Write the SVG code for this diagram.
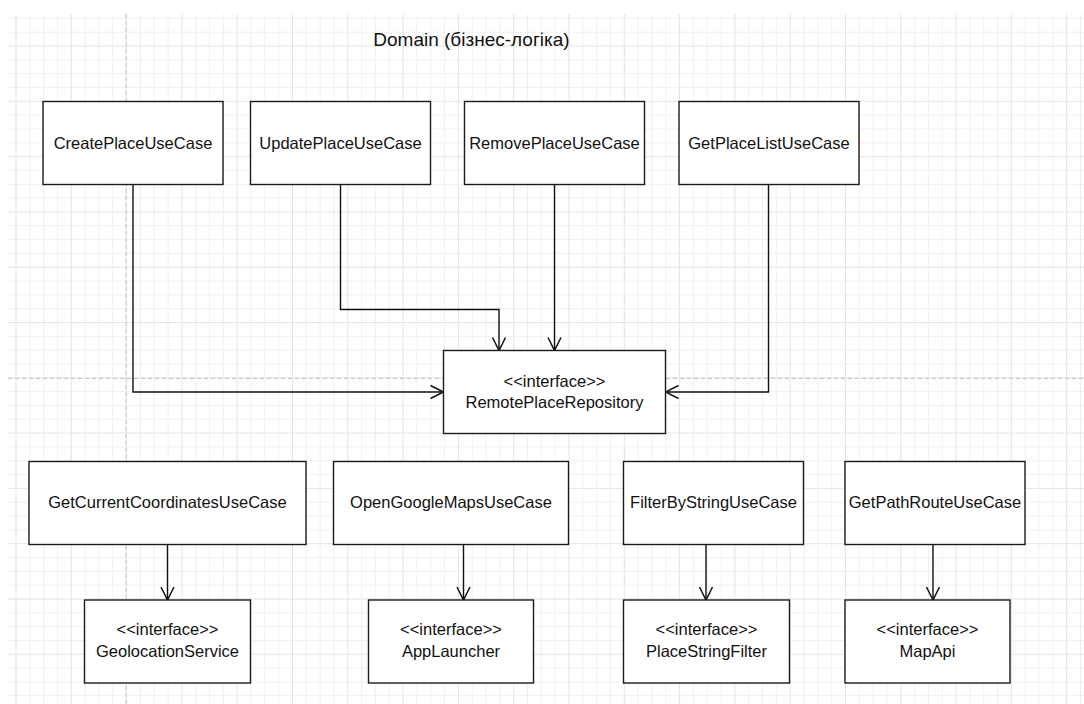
<svg xmlns="http://www.w3.org/2000/svg" width="1084" height="704" viewBox="0 0 1084 704">
  <style>
    .box { fill: #ffffff; stroke: #1a1a1a; stroke-width: 1.4; }
    .lbl { font-family: "Liberation Sans", Arial, sans-serif; font-size: 16.5px; fill: #111111; text-anchor: middle; }
    .title { font-size: 19px; }
    .edge { fill: none; stroke: #111111; stroke-width: 1.4; marker-end: url(#open); }
    .guide { stroke: #c4c4c4; stroke-width: 1; stroke-dasharray: 4 3; }
  </style>
  <defs>
    <pattern id="grid" patternUnits="userSpaceOnUse" x="15.5" y="45.5" width="55.3" height="55.3">
      <path d="M14.325 0V55.3M28.15 0V55.3M41.975 0V55.3M0 14.325H55.3M0 28.15H55.3M0 41.975H55.3" stroke="#f0f0f0" stroke-width="1" fill="none"/>
      <path d="M0.5 0V55.3M0 0.5H55.3" stroke="#e3e3e3" stroke-width="1" fill="none"/>
    </pattern>
    <marker id="open" markerUnits="userSpaceOnUse" viewBox="-15 -9 17 18" markerWidth="17" markerHeight="18" refX="0" refY="0" orient="auto">
      <path d="M-13 -6.5 L0 0 L-13 6.5" fill="none" stroke="#111111" stroke-width="1.5"/>
    </marker>
  </defs>

  <rect x="0" y="0" width="1084" height="704" fill="#ffffff"/>
  <rect x="8" y="14" width="1076" height="690" fill="url(#grid)"/>
  <line class="guide" x1="126" y1="14" x2="126" y2="704"/>
  <line class="guide" x1="8" y1="378.5" x2="1084" y2="378.5"/>

  <text class="lbl title" x="471.5" y="45.5">Domain (бізнес-логіка)</text>

  <g id="connectors">
    <path class="edge" d="M133 184.5 V392 H443.5"/>
    <path class="edge" d="M340.5 184.5 V309.5 H499 V350.5"/>
    <path class="edge" d="M554.5 184.5 V350.5"/>
    <path class="edge" d="M768.5 184.5 V392 H665.5"/>
    <path class="edge" d="M167.5 544.5 V600"/>
    <path class="edge" d="M463.5 544.5 V600"/>
    <path class="edge" d="M706 544.5 V600"/>
    <path class="edge" d="M933 544.5 V600"/>
  </g>

  <g id="createPlace">
    <rect class="box" x="43" y="101.5" width="180" height="83"/>
    <text class="lbl" x="133" y="149">CreatePlaceUseCase</text>
  </g>
  <g id="updatePlace">
    <rect class="box" x="250.5" y="101.5" width="180" height="83"/>
    <text class="lbl" x="340.5" y="149">UpdatePlaceUseCase</text>
  </g>
  <g id="removePlace">
    <rect class="box" x="464.5" y="101.5" width="180" height="83"/>
    <text class="lbl" x="554.5" y="149">RemovePlaceUseCase</text>
  </g>
  <g id="getPlaceList">
    <rect class="box" x="679" y="101.5" width="180" height="83"/>
    <text class="lbl" x="769" y="149">GetPlaceListUseCase</text>
  </g>
  <g id="remotePlaceRepository">
    <rect class="box" x="443.5" y="350.5" width="222" height="83"/>
    <text class="lbl" x="554.5" y="387">&lt;&lt;interface&gt;&gt;</text>
    <text class="lbl" x="554.5" y="408">RemotePlaceRepository</text>
  </g>

  <g id="getCurrentCoordinates">
    <rect class="box" x="29" y="461.5" width="277" height="83"/>
    <text class="lbl" x="167.5" y="507.5">GetCurrentCoordinatesUseCase</text>
  </g>
  <g id="openGoogleMaps">
    <rect class="box" x="333.5" y="461.5" width="235" height="83"/>
    <text class="lbl" x="451" y="507.5">OpenGoogleMapsUseCase</text>
  </g>
  <g id="filterByString">
    <rect class="box" x="623.5" y="461.5" width="180" height="83"/>
    <text class="lbl" x="713.5" y="507.5">FilterByStringUseCase</text>
  </g>
  <g id="getPathRoute">
    <rect class="box" x="845" y="461.5" width="180" height="83"/>
    <text class="lbl" x="935" y="507.5">GetPathRouteUseCase</text>
  </g>

  <g id="geolocationService">
    <rect class="box" x="84.5" y="600" width="166" height="83"/>
    <text class="lbl" x="167.5" y="635">&lt;&lt;interface&gt;&gt;</text>
    <text class="lbl" x="167.5" y="656.5">GeolocationService</text>
  </g>
  <g id="appLauncher">
    <rect class="box" x="368.5" y="600" width="165" height="83"/>
    <text class="lbl" x="451" y="635">&lt;&lt;interface&gt;&gt;</text>
    <text class="lbl" x="451" y="656.5">AppLauncher</text>
  </g>
  <g id="placeStringFilter">
    <rect class="box" x="623.5" y="600" width="166" height="83"/>
    <text class="lbl" x="706.5" y="635">&lt;&lt;interface&gt;&gt;</text>
    <text class="lbl" x="706.5" y="656.5">PlaceStringFilter</text>
  </g>
  <g id="mapApi">
    <rect class="box" x="845" y="600" width="165" height="83"/>
    <text class="lbl" x="927.5" y="635">&lt;&lt;interface&gt;&gt;</text>
    <text class="lbl" x="927.5" y="656.5">MapApi</text>
  </g>
</svg>
